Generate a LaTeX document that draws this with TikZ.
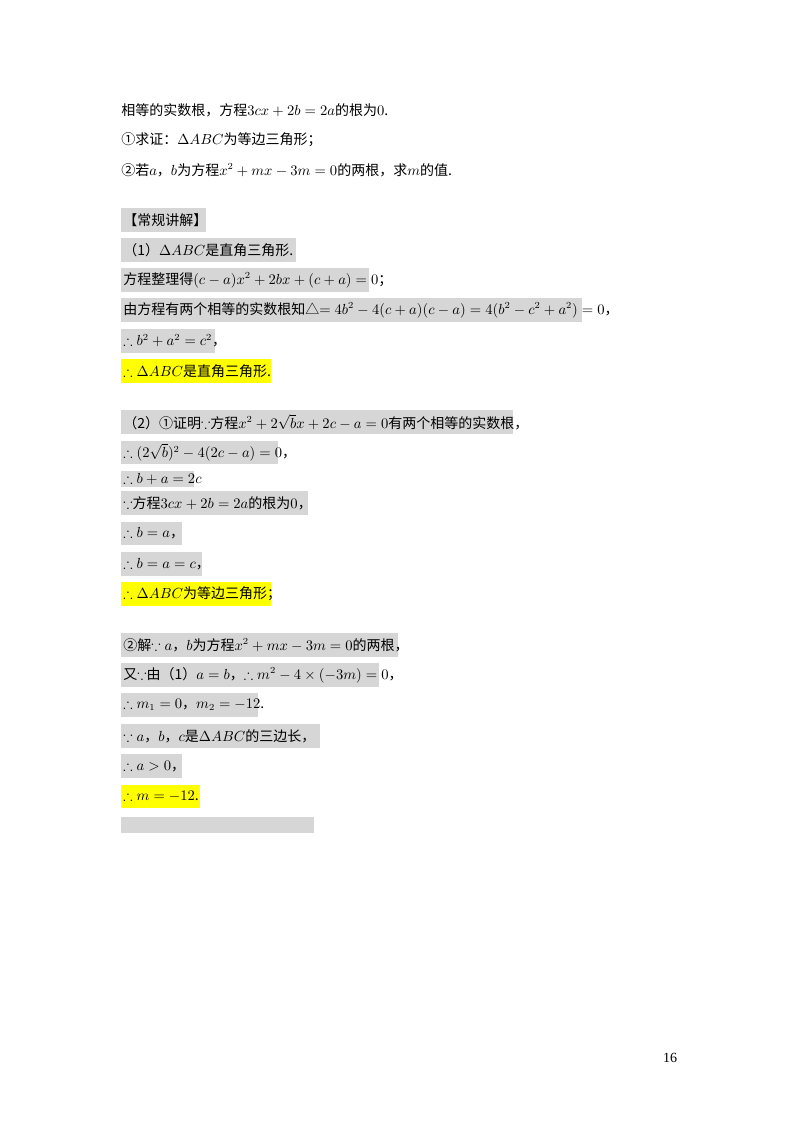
\documentclass[tikz,border=0pt]{standalone}
\usepackage{amsmath,amssymb}
\usepackage{fontspec}
\setmainfont{Noto Sans CJK SC}
\newfontfamily\serifx{Liberation Serif}
\definecolor{hlgray}{RGB}{214,214,214}
\definecolor{hlyel}{RGB}{255,255,0}
\tikzset{txt/.style={anchor=west,inner sep=0pt,font=\fontsize{10.5}{12}\selectfont}}
\newcommand\hlbox[6]{\fill[#5] (121,#3) rectangle (#2,#4);
  \node[txt] (#1) at (123,{(#3+#4)/2}) {#6};}
\begin{document}
\begin{tikzpicture}[x=0.75pt,y=-0.75pt]
\useasboundingbox[fill=white] (0,0) rectangle (800,1132);
\node[txt] (l1) at (121,110) {相等的实数根，方程$3cx+2b=2a$的根为$0$.};
\node[txt] (l2) at (121,140) {①求证：$\Delta ABC$为等边三角形；};
\node[txt] (l3) at (121,170) {②若$a$，$b$为方程$x^2+mx-3m=0$的两根，求$m$的值.};
\hlbox{h0}{206}{208}{232}{hlgray}{【常规讲解】}
\hlbox{h1}{296}{238}{262}{hlgray}{（1）$\Delta ABC$是直角三角形.}
\hlbox{h2}{369}{268}{292}{hlgray}{方程整理得$(c-a)x^2+2bx+(c+a)=0$；}
\hlbox{h3}{582}{298}{322}{hlgray}{由方程有两个相等的实数根知△$=4b^2-4(c+a)(c-a)=4(b^2-c^2+a^2)=0$，}
\hlbox{h4}{215}{329}{353}{hlgray}{$\therefore b^2+a^2=c^2$，}
\hlbox{h5}{271}{359}{383}{hlyel}{$\therefore \Delta ABC$是直角三角形.}
\hlbox{h6}{513}{410}{434}{hlgray}{（2）①证明$\because$方程$x^2+2\sqrt{b}x+2c-a=0$有两个相等的实数根，}
\hlbox{h7}{278}{441}{464}{hlgray}{$\therefore (2\sqrt{b})^2-4(2c-a)=0$，}
\hlbox{h8}{194}{471}{487}{hlgray}{$\therefore b+a=2c$}
\hlbox{h9}{308}{491}{515}{hlgray}{$\because$方程$3cx+2b=2a$的根为$0$，}
\hlbox{h10}{182}{522}{545}{hlgray}{$\therefore b=a$，}
\hlbox{h11}{202}{552}{576}{hlgray}{$\therefore b=a=c$，}
\hlbox{h12}{271}{582}{606}{hlyel}{$\therefore \Delta ABC$为等边三角形；}
\hlbox{h13}{398}{633}{657}{hlgray}{②解$\because a$，$b$为方程$x^2+mx-3m=0$的两根，}
\hlbox{h14}{379}{663}{687}{hlgray}{又$\because$由（1）$a=b$，$\therefore m^2-4\times(-3m)=0$，}
\hlbox{h15}{258}{693}{717}{hlgray}{$\therefore m_1=0$，$m_2=-12$.}
\hlbox{h16}{320}{724}{748}{hlgray}{$\because a$，$b$，$c$是$\Delta ABC$的三边长，}
\hlbox{h17}{182}{754}{778}{hlgray}{$\therefore a>0$，}
\hlbox{h18}{200}{785}{808}{hlyel}{$\therefore m=-12$.}
\fill[hlgray] (121,817) rectangle (314,833);
\node[anchor=center,inner sep=0pt,font=\serifx\fontsize{10.5}{12}\selectfont] (pg) at (670,1058) {16};
\end{tikzpicture}
\end{document}
